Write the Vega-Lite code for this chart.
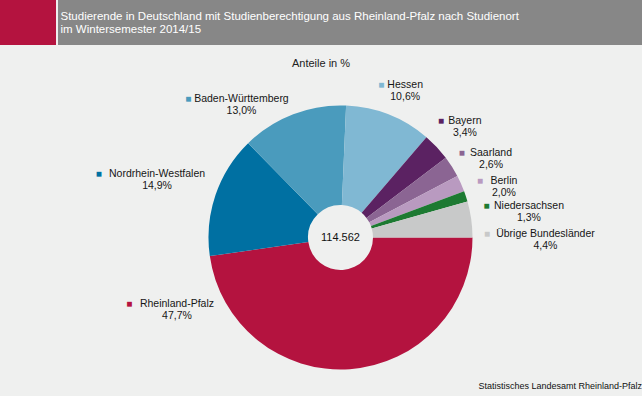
{
  "$schema": "https://vega.github.io/schema/vega-lite/v6.json",
  "background": "#eff0ef",
  "padding": 0,
  "columns": 2,
  "align": "none",
  "bounds": "flush",
  "spacing": {"row": 34, "column": 2},
  "config": {"view": {"stroke": null}, "font": "Liberation Sans"},
  "title": {"text": "Statistisches Landesamt Rheinland-Pfalz", "orient": "bottom", "anchor": "end", "offset": -14, "fontSize": 9, "fontWeight": "normal", "color": "#111111", "font": "Liberation Sans"},
  "datasets": {
    "shares": [
      {"state": "Rheinland-Pfalz", "share": 47.7, "order": 1},
      {"state": "Nordrhein-Westfalen", "share": 14.9, "order": 2},
      {"state": "Baden-Württemberg", "share": 13.0, "order": 3},
      {"state": "Hessen", "share": 10.6, "order": 4},
      {"state": "Bayern", "share": 3.4, "order": 5},
      {"state": "Saarland", "share": 2.6, "order": 6},
      {"state": "Berlin", "share": 2.0, "order": 7},
      {"state": "Niedersachsen", "share": 1.3, "order": 8},
      {"state": "Übrige Bundesländer", "share": 4.4, "order": 9}
    ]
  },
  "concat": [
    {"width": 56, "height": 45, "view": {"fill": "#b4133f", "stroke": null}, "data": {"values": []}, "mark": "text"},
    {
      "width": 584, "height": 45,
      "view": {"fill": "#878787", "stroke": null},
      "data": {"values": [
        {"line": 1, "text": "Studierende in Deutschland mit Studienberechtigung aus Rheinland-Pfalz nach Studienort"},
        {"line": 2, "text": "im Wintersemester 2014/15"}
      ]},
      "mark": {"type": "text", "align": "left", "baseline": "alphabetic", "dx": 2.5, "fontSize": 11.5, "color": "#ffffff", "font": "Liberation Sans"},
      "encoding": {
        "text": {"field": "text"},
        "x": {"datum": 0, "type": "quantitative", "scale": {"domain": [0, 1], "nice": false}, "axis": null},
        "y": {"field": "line", "type": "quantitative", "scale": {"domain": [-0.5, 2.88], "reverse": true, "nice": false, "zero": false}, "axis": null}
      }
    },
    {"width": 56, "height": 317, "data": {"values": []}, "mark": "text"},
    {
      "width": 565, "height": 317,
      "title": {"text": "Anteile in %", "frame": "group", "anchor": "middle", "dx": -19.5, "offset": 10, "fontSize": 11, "fontWeight": "normal", "color": "#222222", "font": "Liberation Sans"},
      "layer": [
        {
          "data": {"name": "shares"},
          "mark": {"type": "arc", "outerRadius": 132, "innerRadius": 32.5},
          "encoding": {
            "theta": {"field": "share", "type": "quantitative", "stack": true, "scale": {"range": [1.5708, 7.854]}},
            "order": {"field": "order", "type": "quantitative"},
            "color": {"field": "state", "type": "nominal", "legend": null,
              "scale": {"domain": ["Rheinland-Pfalz", "Nordrhein-Westfalen", "Baden-Württemberg", "Hessen", "Bayern", "Saarland", "Berlin", "Niedersachsen", "Übrige Bundesländer"],
                        "range": ["#b4133f", "#0070a2", "#4a9bbd", "#80b8d3", "#5b2262", "#8b6593", "#b99ac0", "#1d7a32", "#c8c9c9"]}}
          }
        },
        {
          "data": {"name": "shares"},
          "mark": {"type": "text", "text": "■", "fontSize": 10, "font": "Liberation Sans", "align": "center", "baseline": "middle",
            "radius": {"expr": "[178.9, 192.3, 165.8, 160.1, 166.1, 169.7, 171.1, 190.2, 205][datum.order - 1]"},
            "thetaOffset": {"expr": "[1.224, -0.023, -0.274, 0.040, 0.030, 0.086, 0.121, 0.183, 0.152][datum.order - 1]"},
            "dx": {"expr": "-length(datum.state) * 2.65 - 8"}, "dy": -6},
          "encoding": {
            "theta": {"field": "share", "type": "quantitative", "stack": true},
            "order": {"field": "order", "type": "quantitative"},
            "color": {"field": "state", "type": "nominal", "legend": null}
          }
        },
        {
          "data": {"name": "shares"},
          "mark": {"type": "text", "fontSize": 10.5, "font": "Liberation Sans", "color": "#161616", "align": "center", "baseline": "middle",
            "radius": {"expr": "[178.9, 192.3, 165.8, 160.1, 166.1, 169.7, 171.1, 190.2, 205][datum.order - 1]"},
            "thetaOffset": {"expr": "[1.224, -0.023, -0.274, 0.040, 0.030, 0.086, 0.121, 0.183, 0.152][datum.order - 1]"},
            "dy": -6},
          "encoding": {
            "theta": {"field": "share", "type": "quantitative", "stack": true},
            "order": {"field": "order", "type": "quantitative"},
            "text": {"field": "state"}
          }
        },
        {
          "data": {"name": "shares"},
          "mark": {"type": "text", "fontSize": 10.5, "font": "Liberation Sans", "color": "#161616", "align": "center", "baseline": "middle",
            "radius": {"expr": "[178.9, 192.3, 165.8, 160.1, 166.1, 169.7, 171.1, 190.2, 205][datum.order - 1]"},
            "thetaOffset": {"expr": "[1.224, -0.023, -0.274, 0.040, 0.030, 0.086, 0.121, 0.183, 0.152][datum.order - 1]"},
            "text": {"expr": "replace(format(datum.share, '.1f'), '.', ',') + '%'"},
            "dy": 6},
          "encoding": {
            "theta": {"field": "share", "type": "quantitative", "stack": true},
            "order": {"field": "order", "type": "quantitative"}
          }
        },
        {
          "data": {"values": [{"total": 114562}]},
          "mark": {"type": "text", "fontSize": 11, "font": "Liberation Sans", "color": "#111111", "align": "center", "baseline": "middle",
            "text": {"expr": "replace(format(datum.total, ',d'), ',', '.')"}},
          "encoding": {}
        }
      ]
    }
  ]
}
